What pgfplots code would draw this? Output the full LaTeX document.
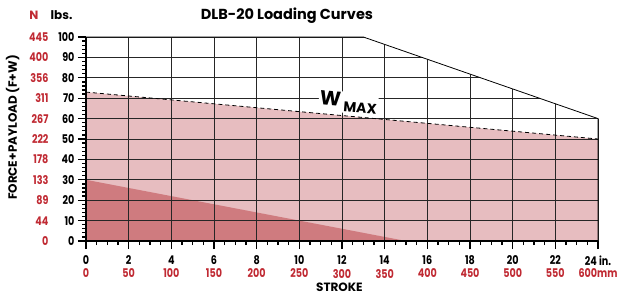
\documentclass[border=0pt]{standalone}
\usepackage{fontspec}
\setmainfont{Poppins}
\newfontfamily\tickfont{Poppins}[FakeStretch=0.8, UprightFont=* Bold]
\usepackage{pgfplots}
\pgfplotsset{compat=1.18}
\definecolor{nred}{HTML}{C02A33}
\definecolor{lightfill}{HTML}{E7BDC0}
\definecolor{darkfill}{HTML}{CF7B7F}
\newcommand\yl[2]{\makebox[0pt][r]{\color{nred}#1}\makebox[26pt][r]{#2}}
\newcommand\m[1]{\mbox{\tickfont\fontsize{12}{14}\selectfont #1}}
\begin{document}
\begin{tikzpicture}
\begin{axis}[
 set layers,
 scale only axis, width=512pt, height=204pt,
 xmin=0, xmax=24, ymin=0, ymax=100,
 axis x line=bottom, axis y line=left,
 axis line style={line width=2pt,-},
 xtick={0,2,...,24}, ytick={0,10,...,100},
 minor x tick num=3, minor y tick num=4,
 tick align=outside,
 major tick length=8pt, minor tick length=4pt,
 every tick/.style={black, line width=1.3pt},
 grid=major,
 major grid style={black!85, line width=0.9pt},
 clip=false,
 xticklabels={\m{0},\m{2},\m{4},\m{6},\m{8},\m{10},\m{12},\m{14},\m{16},\m{18},\m{20},\m{22},\m{24 in.}},
 extra x ticks={0,2,...,24},
 extra x tick labels={\m{0},\m{50},\m{100},\m{150},\m{200},\m{250},\m{300},\m{350},\m{400},\m{450},\m{500},\m{550},\m{600mm}},
 extra x tick style={grid=none, major tick length=0pt, xticklabel style={yshift=-21.5pt, text=nred}},
 yticklabels={{\yl{0}{0}},{\yl{44}{10}},{\yl{89}{20}},{\yl{133}{30}},{\yl{178}{40}},{\yl{222}{50}},{\yl{267}{60}},{\yl{311}{70}},{\yl{356}{80}},{\yl{400}{90}},{\yl{445}{100}}},
 xticklabel style={yshift=-3pt, font=\tickfont\fontsize{12}{14}\selectfont},
 yticklabel style={anchor=east, font=\tickfont\fontsize{12}{13}\selectfont},
]
% fills (under the grid)
\addplot[fill=lightfill, draw=none, on layer=axis background] coordinates {(0,0)(0,73)(24,50)(24,0)} -- cycle;
\addplot[fill=darkfill, draw=none, on layer=axis background] coordinates {(0,0)(0,30)(15,0)} -- cycle;
% mask above the envelope
\addplot[fill=white, draw=none] coordinates {(12.9,100.6)(13,100)(24,60)(24.1,60)(24.1,100.6)} -- cycle;
% envelope
\addplot[black, line width=0.8pt] coordinates {(0,100)(13,100)(24,60)(24,0)};
% W max dashed line
\addplot[black, line width=0.8pt, dash pattern=on 4pt off 3pt] coordinates {(0,73)(24,50)};
\node[fill=white, inner sep=1pt, rotate=-5, font=\bfseries] at (axis cs:12.3,67.9)
  {\fontsize{20}{20}\selectfont W\,\raisebox{-5pt}{\fontsize{14}{14}\selectfont MAX}};
% titles
\node[anchor=base, font=\bfseries\fontsize{14.5}{14.5}\selectfont] at ([yshift=17pt]axis cs:9.42,100) {DLB-20 Loading Curves};
\node[anchor=base east, text=nred, font=\bfseries\fontsize{12}{12}\selectfont] at ([shift={(-44pt,17pt)}]axis cs:0,100) {N};
\node[anchor=base east, font=\bfseries\fontsize{12}{12}\selectfont] at ([shift={(-10pt,17pt)}]axis cs:0,100) {lbs.};
\node[anchor=base, rotate=90, font=\bfseries\fontsize{12}{12}\selectfont] at ([xshift=-69pt]axis cs:0,55.6) {FORCE+PAYLOAD (F+W)};
\node[anchor=base, font=\bfseries\fontsize{12}{12}\selectfont] at ([yshift=-50pt]axis cs:11.88,0) {STROKE};
\end{axis}
\pgfresetboundingbox
\useasboundingbox ([shift={(-86pt,-54pt)}]current axis.south west) rectangle ([shift={(22pt,37pt)}]current axis.north east);
\end{tikzpicture}
\end{document}
